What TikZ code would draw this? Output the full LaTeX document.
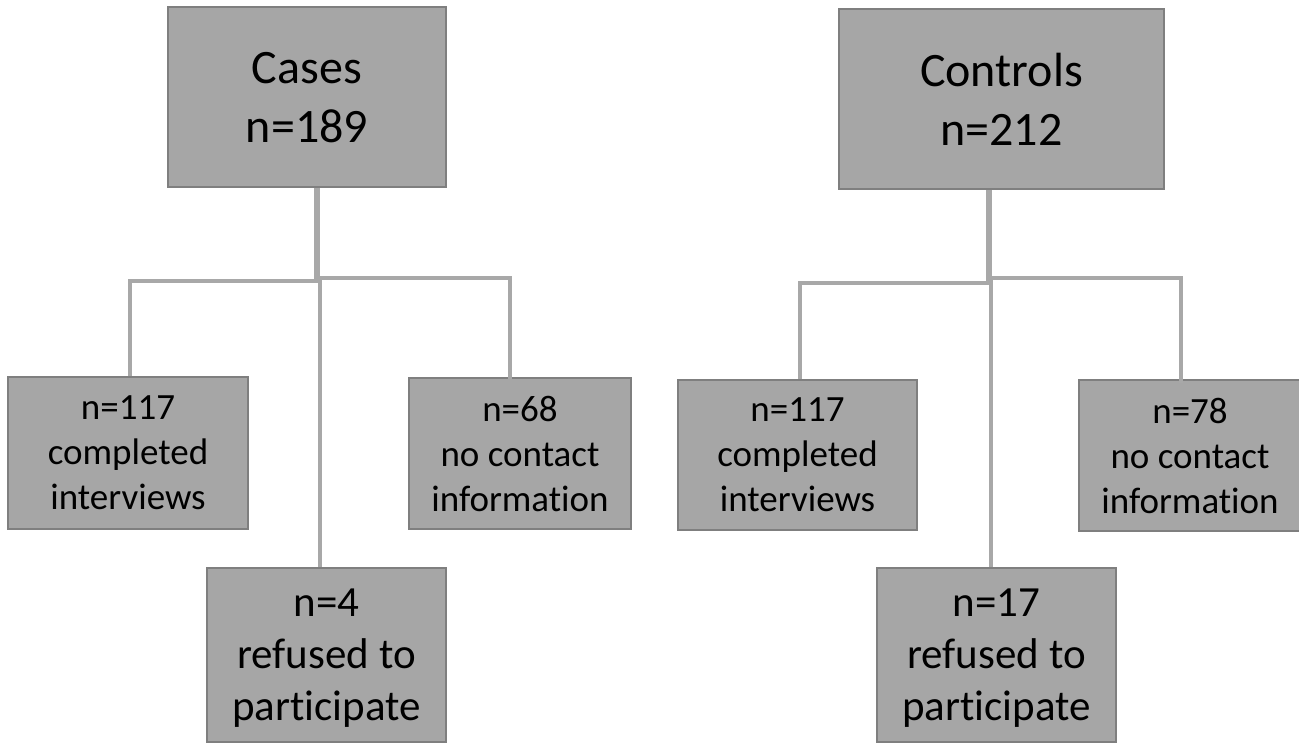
\documentclass[tikz,border=0pt]{standalone}
\usepackage{fontspec}
\setmainfont{Carlito}[Ligatures={NoCommon,NoContextual}]
\definecolor{boxfill}{HTML}{A6A6A6}
\definecolor{boxline}{HTML}{7F7F7F}
\definecolor{conn}{HTML}{A8A8A8}
\begin{document}
\begin{tikzpicture}[x=1pt,y=-1pt,
  box/.style={draw=boxline, fill=boxfill, line width=1.8pt, align=center, inner sep=0pt, text depth=0pt},
  bigbox/.style={box, font=\fontsize{48}{59}\selectfont},
  smallbox/.style={box, font=\fontsize{37}{45}\selectfont},
  midbox/.style={box, font=\fontsize{43}{52}\selectfont},
  conline/.style={draw=conn, line width=3.2pt},
  trunkline/.style={draw=conn, line width=6pt}]
\useasboundingbox (0,0) rectangle (1299,746);
\fill[white] (0,0) rectangle (1299,746);

% Cases side
\node[bigbox, minimum width=278pt, minimum height=180pt] (cases) at (307,97) {Cases\\n=189};
\node[smallbox, minimum width=240pt, minimum height=152pt] (c1) at (128,453) {n=117\\completed\\interviews};
\node[midbox, minimum width=239pt, minimum height=174pt] (c2) at (326.5,655) {n=4\\refused to\\participate};
\node[smallbox, minimum width=222pt, minimum height=151pt] (c3) at (520,453.5) {n=68\\no contact\\information};

\coordinate (ja) at (317,281);
\coordinate (jaL) at (130,281);
\coordinate (jaR) at (510,278);
\coordinate (jaM) at (320,278);
\draw[trunkline] (cases.south -| ja) -- (ja);
\draw[conline] ([xshift=1.5pt]ja) -- (jaL) -- (c1.north -| jaL);
\draw[conline] ([xshift=-1.5pt]jaM) -- (jaR) -- ([yshift=-2pt]c3.north -| jaR);
\draw[conline] (jaM) -- (c2.north -| jaM);

% Controls side
\node[bigbox, minimum width=325pt, minimum height=180pt] (controls) at (1001.5,99) {Controls\\n=212};
\node[smallbox, minimum width=239pt, minimum height=150pt] (k1) at (797.5,455) {n=117\\completed\\interviews};
\node[midbox, minimum width=239pt, minimum height=174pt] (k2) at (996.5,655) {n=17\\refused to\\participate};
\node[smallbox, minimum width=222pt, minimum height=151pt] (k3) at (1190,455.5) {n=78\\no contact\\information};

\coordinate (jb) at (989,282);
\coordinate (jbL) at (800,283);
\coordinate (jbR) at (1181,278);
\coordinate (jbM) at (991,278);
\draw[trunkline] (controls.south -| jb) -- (jb);
\draw[conline] ([xshift=1.5pt]jb |- jbL) -- (jbL) -- (k1.north -| jbL);
\draw[conline] ([xshift=-1.5pt]jbM) -- (jbR) -- ([yshift=-4pt]k3.north -| jbR);
\draw[conline] (jbM) -- (k2.north -| jbM);
\end{tikzpicture}
\end{document}
